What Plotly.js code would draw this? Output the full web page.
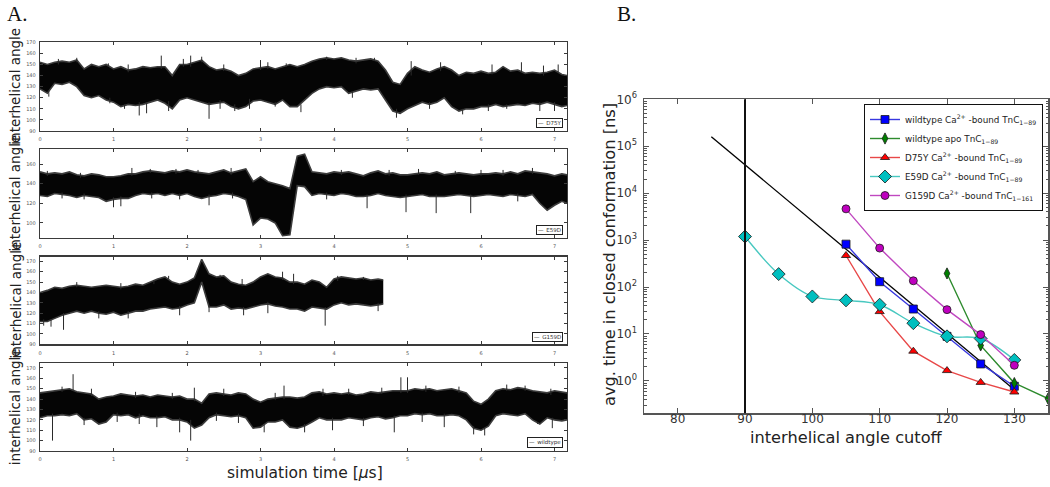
<!DOCTYPE html>
<html><head><meta charset="utf-8">
<script src="https://cdn.plot.ly/plotly-3.0.1.min.js"></script>
<style>html,body{margin:0;padding:0;background:#fff}#chart{width:1050px;height:487px}</style>
</head><body><div id="chart"></div>
<script>
// ---------- Panel A: interhelical angle time series (envelope read per 0.1 us + visible spikes) ----------
const timeUs = [0,0.1,0.2,0.3,0.4,0.5,0.6,0.7,0.8,0.9,1.0,1.1,1.2,1.3,1.4,1.5,1.6,1.7,1.8,1.9,2.0,2.1,2.2,2.3,2.4,2.5,2.6,2.7,2.8,2.9,3.0,3.1,3.2,3.3,3.4,3.5,3.6,3.7,3.8,3.9,4.0,4.1,4.2,4.3,4.4,4.5,4.6,4.7,4.8,4.9,5.0,5.1,5.2,5.3,5.4,5.5,5.6,5.7,5.8,5.9,6.0,6.1,6.2,6.3,6.4,6.5,6.6,6.7,6.8,6.9,7.0,7.1,7.17];
const timeG159D = [0,0.1,0.2,0.3,0.4,0.5,0.6,0.7,0.8,0.9,1.0,1.1,1.2,1.3,1.4,1.5,1.6,1.7,1.8,1.9,2.0,2.1,2.2,2.3,2.4,2.5,2.6,2.7,2.8,2.9,3.0,3.1,3.2,3.3,3.4,3.5,3.6,3.7,3.8,3.9,4.0,4.1,4.2,4.3,4.4,4.5,4.6,4.67];

const d75yHi = [152,150,152,153,152,154,146,150,148,150,146,148,145,146,148,147,148,148,140,150,150,152,154,148,145,146,144,140,142,146,147,148,146,148,150,148,150,153,155,156,155,156,154,153,154,155,153,145,134,132,142,148,145,143,146,148,145,140,143,142,144,142,143,148,144,145,142,143,142,143,145,141,140];
const d75yLo = [128,124,133,132,134,130,122,120,122,118,116,112,114,113,114,116,118,115,110,118,120,118,116,114,115,116,112,110,112,117,118,116,114,118,112,112,118,124,128,130,129,130,124,126,128,127,128,118,108,106,110,113,116,114,116,120,112,108,110,110,112,112,114,112,113,114,113,115,114,116,114,112,113];
const d75ySpikeT = [0.12,0.25,0.5,0.93,0.95,1.15,1.2,1.35,1.45,1.65,1.75,1.95,2.05,2.2,2.3,2.45,2.5,2.65,2.85,3.0,3.1,3.2,3.35,3.55,3.9,4.25,4.3,4.55,4.85,5.05,5.3,5.45,5.75,6.1,6.15,6.35,6.55,6.8,6.85,7.0,7.05];
const d75ySpikeV = [121,155,156,151,115,110,150,104,106,158,108,155,158,157,101,110,150,108,110,154,152,112,151,107,157,120,156,156,102,153,110,152,105,108,150,110,152,108,149,108,150];

const e59dHi = [152,150,151,150,152,149,148,150,149,147,147,148,150,150,152,153,152,151,153,152,154,152,151,150,152,154,151,153,155,142,147,142,140,138,135,168,170,152,151,150,152,151,152,150,148,151,153,150,151,149,149,150,151,150,152,149,150,151,150,149,150,150,151,150,152,150,153,152,151,150,148,150,149];
const e59dLo = [128,127,130,129,128,126,128,127,126,122,124,125,125,128,130,129,130,128,130,128,130,127,125,127,128,130,129,127,124,98,105,104,100,87,88,138,137,128,130,129,128,130,129,127,127,128,130,128,127,126,127,128,129,127,127,127,128,129,128,127,128,129,128,127,129,128,127,129,120,113,118,122,120];
const e59dSpikeT = [0.1,0.3,0.55,0.6,1.0,1.1,1.25,1.5,1.52,1.85,1.9,2.15,2.3,2.6,2.62,3.9,4.1,4.45,4.75,4.98,5.15,5.39,5.65,5.86,6.0,6.3,6.5,6.7];
const e59dSpikeV = [153,125,151,124,116,117,156,155,125,155,124,154,118,156,125,124,154,115,154,111,155,110,153,110,154,154,122,156];

const g159dHi = [140,142,145,144,146,147,146,145,146,147,146,145,146,148,147,150,153,155,150,148,150,154,172,158,155,156,150,148,147,150,155,158,155,154,150,150,148,152,150,145,153,155,154,153,154,152,153,152];
const g159dLo = [112,112,115,118,120,122,120,122,120,119,121,118,120,122,122,124,125,126,124,125,128,130,150,126,126,128,124,125,124,126,128,129,127,126,124,124,122,126,125,124,128,130,128,129,128,127,128,129];
const g159dSpikeT = [0.05,0.15,0.32,0.5,0.8,1.1,1.2,1.55,1.75,1.9,2.3,2.45,2.75,2.77,3.1,3.3,3.45,3.88,4.05,4.4,4.6];
const g159dSpikeV = [108,107,104,150,115,149,115,152,156,118,121,157,153,118,120,160,158,108,156,155,122];

const wtHi = [146,147,148,149,150,147,146,145,140,142,143,145,144,143,144,142,144,143,142,143,140,140,136,145,146,145,144,146,145,140,137,140,141,142,142,141,142,146,147,145,146,145,146,144,145,147,146,147,148,148,148,150,149,150,148,149,150,148,146,138,135,140,148,150,149,151,150,148,147,146,148,147,146];
const wtLo = [122,124,124,125,124,126,120,121,116,118,125,124,125,122,124,122,122,123,120,120,118,112,115,122,125,124,123,124,122,112,113,118,118,120,113,112,114,118,122,120,120,120,122,121,120,122,123,121,122,124,124,126,125,126,124,124,125,124,120,112,110,114,124,126,125,124,126,120,116,122,120,119,120];
const wtSpikeT = [0.17,0.3,0.45,0.6,0.7,1.05,1.3,1.35,1.59,1.8,1.9,2.05,2.1,2.4,2.5,2.7,3.05,3.2,3.32,3.6,3.85,3.98,4.2,4.4,4.65,4.82,4.91,5.0,5.2,5.25,5.5,5.7,5.9,6.05,6.35,6.6,6.77,6.95,6.97];
const wtSpikeV = [100,152,164,115,150,118,147,116,113,146,108,100,151,119,150,117,108,146,153,108,150,110,150,114,151,108,161,161,118,153,113,152,106,105,154,153,116,150,112];

const panelNames = ['D75Y','E59D','G159D','wildtype'];

// ---------- Panel B: average time in closed conformation ----------
const wtCaX = [105,110,115,120,125,130];
const wtCaY = [820,130,34,8.9,2.3,0.77];
const wtApoX = [120,125,130,135];
const wtApoY = [195,5.7,0.9,0.42];
const d75yX = [105,110,115,120,125,130];
const d75yY = [470,30,4.3,1.66,0.93,0.58];
const e59dX = [90,95,100,105,110,115,120,125,130];
const e59dY = [1190,189,63,52,42,17,8.9,8.0,2.8];
const g159dX = [105,110,115,120,125,130];
const g159dY = [4630,676,136,33,9.7,2.15];
const fitX = [85,130];
const fitY = [160000,0.65];
const cutoffLineX = 90;
const seriesNamesB = [
  'wildtype Ca<sup>2+</sup> -bound TnC<sub>1\u221289</sub>',
  'wildtype apo TnC<sub>1\u221289</sub>',
  'D75Y Ca<sup>2+</sup> -bound TnC<sub>1\u221289</sub>',
  'E59D Ca<sup>2+</sup> -bound TnC<sub>1\u221289</sub>',
  'G159D Ca<sup>2+</sup> -bound TnC<sub>1\u2212161</sub>'
];
const xTickValsB = [80,90,100,110,120,130];
const yTickVals = [1,10,100,1000,10000,100000,1000000];
const yTickText = ['10<sup>0</sup>','10<sup>1</sup>','10<sup>2</sup>','10<sup>3</sup>','10<sup>4</sup>','10<sup>5</sup>','10<sup>6</sup>'];

// ---------- helpers ----------
const W = 1050, H = 487;
const fx = p => p / W;
const fy = p => 1 - p / H;
const FONT = 'DejaVu Sans, Verdana, sans-serif';

function nearestIdx(times, t){
  let best = 0, bd = Infinity;
  times.forEach((v,i)=>{ const d = Math.abs(v-t); if(d<bd){bd=d;best=i;} });
  return best;
}
function bandTraces(times, hi, lo, sT, sV, k){
  const xa = k===1 ? 'x' : 'x'+k, ya = k===1 ? 'y' : 'y'+k;
  const sx = [], sy = [];
  sT.forEach((t,i)=>{
    const j = nearestIdx(times, t);
    const base = sV[i] > (hi[j]+lo[j])/2 ? hi[j]-2 : lo[j]+2;
    sx.push(t,t,null); sy.push(base, sV[i], null);
  });
  return [
    {x: times, y: lo, xaxis: xa, yaxis: ya, mode:'lines', line:{color:'#3c3c3c', width:1.6}, showlegend:false, hoverinfo:'skip'},
    {x: times, y: hi, xaxis: xa, yaxis: ya, mode:'lines', fill:'tonexty', fillcolor:'#050505', line:{color:'#3c3c3c', width:1.6}, showlegend:false, hoverinfo:'skip'},
    {x: sx, y: sy, xaxis: xa, yaxis: ya, mode:'lines', line:{color:'#2a2a2a', width:1}, showlegend:false, hoverinfo:'skip', connectgaps:false}
  ];
}

const traces = [
  ...bandTraces(timeUs, d75yHi, d75yLo, d75ySpikeT, d75ySpikeV, 1),
  ...bandTraces(timeUs, e59dHi, e59dLo, e59dSpikeT, e59dSpikeV, 2),
  ...bandTraces(timeG159D, g159dHi, g159dLo, g159dSpikeT, g159dSpikeV, 3),
  ...bandTraces(timeUs, wtHi, wtLo, wtSpikeT, wtSpikeV, 4)
];

// panel B traces
traces.push({x: fitX, y: fitY, xaxis:'x5', yaxis:'y5', mode:'lines', line:{color:'#000', width:1.3}, showlegend:false, hoverinfo:'skip'});
const bSeries = [
  {x: wtCaX, y: wtCaY, line:'#3838e0', mk:'#0000ff', sym:'square', size:8},
  {x: wtApoX, y: wtApoY, line:'#2e8b2e', mk:'#008000', sym:'diamond-tall', size:8},
  {x: d75yX, y: d75yY, line:'#e84848', mk:'#ff0000', sym:'triangle-up', size:8},
  {x: e59dX, y: e59dY, line:'#48c8c0', mk:'#00bfbf', sym:'diamond', size:10, spline:true},
  {x: g159dX, y: g159dY, line:'#c048c0', mk:'#bf00bf', sym:'circle', size:8}
];
bSeries.forEach((s,i)=>{
  const ln = {color:s.line, width:1.4, shape: s.spline ? 'spline' : 'linear'};
  if(s.spline) ln.smoothing = 1;
  traces.push({
    x: s.x, y: s.y, xaxis:'x5', yaxis:'y5', name: seriesNamesB[i],
    mode:'lines+markers', line: ln,
    marker:{symbol:s.sym, size:s.size, color:s.mk, line:{color:'#1a1a1a', width:0.8}},
    showlegend:true
  });
});

// ---------- layout ----------
const aDomains = [[131,42.3],[237.7,149.3],[344.3,256.7],[451,363.3]];
const aRanges = [[90,170],[85,175],[90,174.5],[90,174.5]];
const aDtick = [10,20,10,10];
const layout = {
  width: W, height: H, margin:{l:0,r:0,t:0,b:0},
  paper_bgcolor:'#fff', plot_bgcolor:'#fff',
  font:{family:FONT, color:'#222'},
  showlegend:true,
  legend:{x: fx(1043), xanchor:'right', y: fy(104), yanchor:'top', traceorder:'normal',
          bgcolor:'#fff', bordercolor:'#111', borderwidth:1,
          font:{size:8.8, family:FONT, color:'#222'}, tracegroupgap:0, itemwidth:30},
  annotations:[], shapes:[]
};
const aAxisCommon = {showgrid:false, zeroline:false, showline:true, mirror:'ticks', linecolor:'#3a3a3a', linewidth:1.3,
  ticks:'inside', ticklen:3, tickcolor:'#3a3a3a', tickwidth:1, tickfont:{size:5, color:'#555', family:FONT}};
for(let k=1;k<=4;k++){
  const sfx = k===1 ? '' : String(k);
  const d = aDomains[k-1];
  layout['xaxis'+sfx] = Object.assign({}, aAxisCommon, {domain:[fx(40), fx(567)], range:[0,7.17], tick0:0, dtick:1, anchor:'y'+sfx, ticklabelstandoff:3});
  layout['yaxis'+sfx] = Object.assign({}, aAxisCommon, {domain:[fy(d[0]), fy(d[1])], range:aRanges[k-1], tick0:0, dtick:aDtick[k-1], anchor:'x'+sfx, ticklabelstandoff:2});
  layout.annotations.push({xref:'paper', yref:'paper', x: fx(15), y: fy((d[0]+d[1])/2), text:'interhelical angle', textangle:-90,
    showarrow:false, xanchor:'center', yanchor:'middle', font:{size:13.5, family:FONT, color:'#222'}});
  layout.annotations.push({xref:'x'+sfx+' domain', yref:'y'+sfx+' domain', x:0.993, y:0.03, xanchor:'right', yanchor:'bottom',
    text:'\u2014\u2002'+panelNames[k-1], showarrow:false, font:{size:5.5, family:FONT, color:'#333'},
    bgcolor:'#fff', bordercolor:'#222', borderwidth:1, borderpad:1});
}
layout.xaxis5 = {domain:[fx(644), fx(1048)], anchor:'y5', range:[75,135], tickvals:xTickValsB,
  showgrid:false, zeroline:false, showline:true, mirror:'ticks', linecolor:'#555', linewidth:1.5,
  ticks:'inside', ticklen:5, tickcolor:'#555', tickfont:{size:12, color:'#333', family:FONT}, ticklabelstandoff:-6};
layout.yaxis5 = {domain:[fy(413.3), fy(99.3)], anchor:'x5', type:'log', range:[-0.69, 6],
  tickvals:yTickVals, ticktext:yTickText,
  showgrid:false, zeroline:false, showline:true, mirror:'ticks', linecolor:'#555', linewidth:1.5,
  ticks:'inside', ticklen:5, tickcolor:'#555', tickfont:{size:12, color:'#333', family:FONT}, ticklabelstandoff:3,
  minor:{ticks:'inside', ticklen:2.5, tickcolor:'#555', dtick:'D1', showgrid:false}};

layout.shapes.push({type:'line', xref:'x5', yref:'y5 domain', x0:cutoffLineX, x1:cutoffLineX, y0:0, y1:1, line:{color:'#111', width:2}});

layout.annotations.push(
  {xref:'paper', yref:'paper', x: fx(5), y: fy(14), text:'A.', showarrow:false, xanchor:'left', yanchor:'middle', font:{size:21, family:'Liberation Serif, DejaVu Serif, serif', color:'#111'}},
  {xref:'paper', yref:'paper', x: fx(615), y: fy(14), text:'B.', showarrow:false, xanchor:'left', yanchor:'middle', font:{size:21, family:'Liberation Serif, DejaVu Serif, serif', color:'#111'}},
  {xref:'paper', yref:'paper', x: fx(305), y: fy(473), text:'simulation time [<i>\u03bc</i>s]', showarrow:false, xanchor:'center', yanchor:'middle', font:{size:15.5, family:FONT, color:'#222'}},
  {xref:'paper', yref:'paper', x: fx(609), y: fy(255), text:'avg. time in closed conformation [ns]', textangle:-90, showarrow:false, xanchor:'center', yanchor:'middle', font:{size:16.2, family:FONT, color:'#222'}},
  {xref:'paper', yref:'paper', x: fx(846), y: fy(437), text:'interhelical angle cutoff', showarrow:false, xanchor:'center', yanchor:'middle', font:{size:16.2, family:FONT, color:'#222'}}
);

Plotly.newPlot('chart', traces, layout, {staticPlot:true, displayModeBar:false});
</script>
</body></html>
